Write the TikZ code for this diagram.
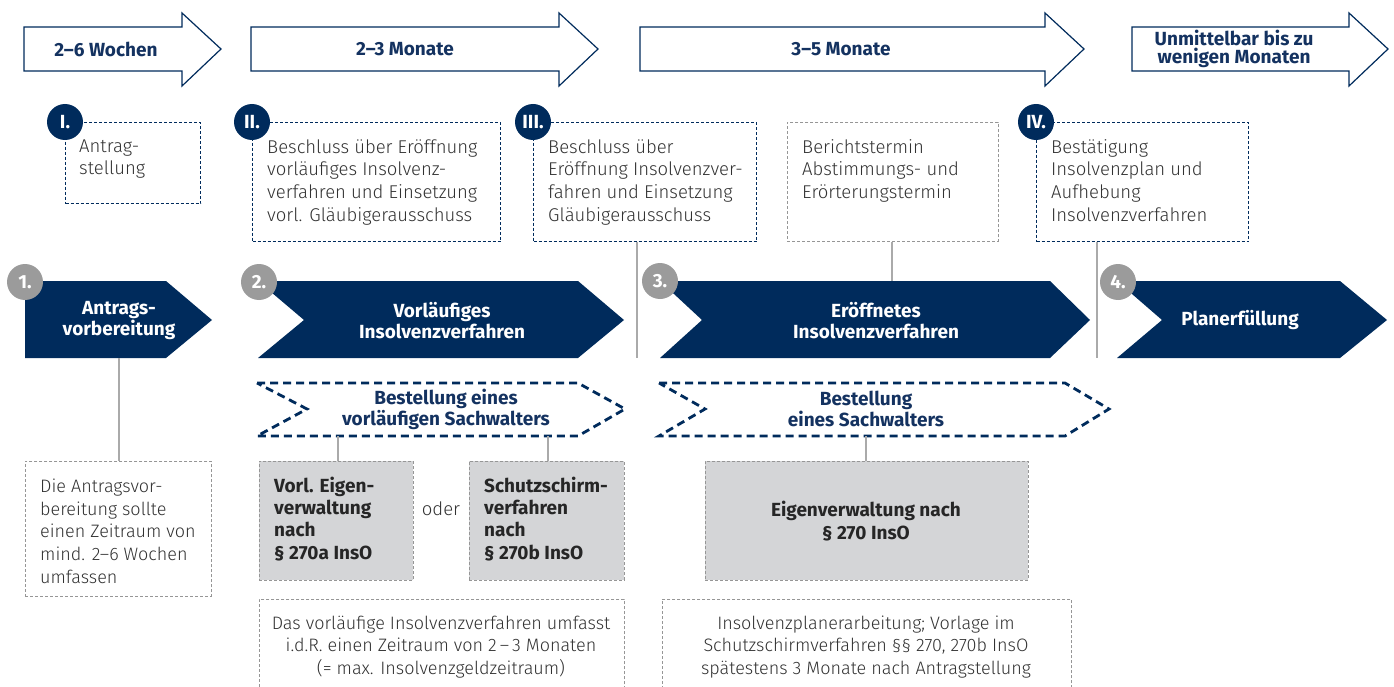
\documentclass[tikz,border=0pt]{standalone}
\usepackage{fontspec}
\setmainfont{Fira Sans}
\newfontfamily\lightfam{Fira Sans Light}
\definecolor{navy}{RGB}{0,43,92}
\definecolor{navytxt}{RGB}{20,50,96}
\definecolor{cgray}{RGB}{155,155,155}
\definecolor{lgray}{RGB}{170,170,170}
\definecolor{dgray}{RGB}{150,150,150}
\definecolor{bgray}{RGB}{212,213,215}
\definecolor{txtg}{RGB}{50,50,50}
\definecolor{txtd}{RGB}{38,38,38}
\newcommand\fl{\rule{0pt}{17pt}}
\newcommand\fsreg{\lightfam\fontsize{18.5}{22.7}\selectfont}
\newcommand\fsnote{\lightfam\fontsize{18}{22.8}\selectfont}
\newcommand\fsbold{\fontsize{19}{21}\bfseries\selectfont}
\newcommand\fsgb{\fontsize{19}{22.3}\bfseries\selectfont}
\begin{document}
\begin{tikzpicture}[x=1pt,y=-1pt,
  toparr/.style={draw=navy, line width=1.2pt, fill=white, line join=miter},
  toptxt/.style={text=navytxt, font=\fsbold, align=center, inner sep=0},
  rbox/.style={draw=navy, line width=1.1pt, dash pattern=on 3pt off 2pt, anchor=north west, inner sep=0},
  gbox/.style={draw=dgray, line width=0.9pt, dash pattern=on 3pt off 2pt, anchor=north west, inner sep=0},
  gfbox/.style={gbox, fill=bgray},
  boxtxt/.style={anchor=north west, inner sep=0, align=left, text=txtg, font=\fsreg},
  notetxt/.style={inner sep=0, align=center, text=txtg, font=\fsnote},
  gtxt/.style={anchor=north west, inner sep=0, align=left, text=txtd, font=\fsgb},
  rcirc/.style={circle, fill=navy, minimum size=36pt, inner sep=0, text=white, font=\fontsize{19}{20}\bfseries\selectfont},
  ncirc/.style={circle, fill=cgray, minimum size=36pt, inner sep=0, text=white, font=\fontsize{19}{20}\bfseries\selectfont},
  chev/.style={fill=navy},
  chevtxt/.style={text=white, font=\fsbold, align=center, inner sep=0},
  dchev/.style={draw=navy, line width=2.8pt, dash pattern=on 8pt off 5pt},
  dchevtxt/.style={text=navytxt, font=\fsbold, align=center, inner sep=0},
  conn/.style={draw=lgray, line width=1.2pt}
]
\useasboundingbox (0,0) rectangle (1394,687);

% ---- top time arrows
\draw[toparr] (24,27) -- (182,27) -- (182,13) -- (221,49) -- (182,86) -- (182,71) -- (24,71) -- cycle;
\node[toptxt] (t1) at (106,49) {2–6 Wochen};
\draw[toparr] (251,27) -- (559,27) -- (559,13) -- (598,49) -- (559,86) -- (559,71) -- (251,71) -- cycle;
\node[toptxt] (t2) at (405,49) {2–3 Monate};
\draw[toparr] (640,27) -- (1045,27) -- (1045,13) -- (1084,49) -- (1045,86) -- (1045,71) -- (640,71) -- cycle;
\node[toptxt] (t3) at (841,49) {3–5 Monate};
\draw[toparr] (1132,27) -- (1349,27) -- (1349,13) -- (1388,49) -- (1349,86) -- (1349,71) -- (1132,71) -- cycle;
\node[toptxt, font=\fontsize{19}{18}\bfseries\selectfont] (t4) at (1234,49) {Unmittelbar bis zu\\wenigen Monaten};

% ---- milestone boxes
\node[rbox, minimum width=135pt, minimum height=81pt] (b1) at (65,122) {};
\node[boxtxt] (b1t) at (79,135) {\fl Antrag-\\stellung};
\node[rbox, minimum width=248pt, minimum height=119pt] (b2) at (252,122) {};
\node[boxtxt] (b2t) at (267,136) {\fl Beschluss über Eröffnung\\vorläufiges Insolvenz-\\verfahren und Einsetzung\\vorl. Gläubigerausschuss};
\node[rbox, minimum width=223pt, minimum height=119pt] (b3) at (533,122) {};
\node[boxtxt] (b3t) at (548,136) {\fl Beschluss über\\Eröffnung Insolvenzver-\\fahren und Einsetzung\\Gläubigerausschuss};
\node[gbox, minimum width=211pt, minimum height=119pt] (bB) at (787,122) {};
\node[boxtxt] (bBt) at (802,136) {\fl Berichtstermin\\Abstimmungs- und\\Erörterungstermin};
\node[rbox, minimum width=212pt, minimum height=119pt] (b4) at (1036,122) {};
\node[boxtxt] (b4t) at (1051,136) {\fl Bestätigung\\Insolvenzplan und\\Aufhebung\\Insolvenzverfahren};

\node[rcirc] (r1) at (b1.north west) {I.};
\node[rcirc] (r2) at (b2.north west) {II.};
\node[rcirc] (r3) at (b3.north west) {III.};
\node[rcirc] (r4) at (b4.north west) {IV.};

% ---- connectors from boxes to phases
\coordinate (ln3) at (637,358);
\coordinate (ch3t) at (892,281);
\coordinate (ln4) at (1097,358);
\draw[conn] (b3.south -| ln3) -- (ln3);
\draw[conn] (bB.south -| ch3t) -- (ch3t);
\draw[conn] (b4.south -| ln4) -- (ln4);

% ---- phase chevrons
\fill[chev] (25,281) -- (166,281) -- (212,320) -- (166,358) -- (25,358) -- cycle;
\node[chevtxt] (p1) at (119,321) {Antrags-\\vorbereitung};
\fill[chev] (258,281) -- (578,281) -- (624,320) -- (578,358) -- (258,358) -- (304,320) -- cycle;
\node[chevtxt] (p2) at (442,321) {Vorläufiges\\Insolvenzverfahren};
\fill[chev] (660,281) -- (1050,281) -- (1090,320) -- (1050,358) -- (660,358) -- (702,320) -- cycle;
\node[chevtxt] (p3) at (876,321) {Eröffnetes\\Insolvenzverfahren};
\fill[chev] (1117,281) -- (1340,281) -- (1387,320) -- (1340,358) -- (1117,358) -- (1162,320) -- cycle;
\node[chevtxt] (p4) at (1240,320) {Planerfüllung};

\node[ncirc] (k1) at (25,282) {1.};
\node[ncirc] (k2) at (259,282) {2.};
\node[ncirc] (k3) at (660,281) {3.};
\node[ncirc] (k4) at (1118,282) {4.};

% ---- dashed chevrons
\draw[dchev] (257,383) -- (578,383) -- (625,409) -- (578,436) -- (257,436) -- (307,409) -- cycle;
\node[dchevtxt] (s1) at (446,409) {Bestellung eines\\vorläufigen Sachwalters};
\draw[dchev] (659,383) -- (1065,383) -- (1109,409) -- (1065,436) -- (659,436) -- (705,409) -- cycle;
\node[dchevtxt] (s2) at (866,409) {Bestellung\\eines Sachwalters};

% ---- note 1
\node[gbox, minimum width=186pt, minimum height=135pt] (n1) at (25,461) {};
\node[boxtxt, font=\fsnote] (n1t) at (40,475) {\fl Die Antragsvor-\\bereitung sollte\\einen Zeitraum von\\mind. 2–6 Wochen\\umfassen};
\coordinate (ch1s) at (119,358);
\draw[conn] (ch1s) -- (n1.north -| ch1s);

% ---- grey boxes
\node[gfbox, minimum width=154pt, minimum height=119pt] (g1) at (259,461) {};
\node[gtxt] (g1t) at (274,475) {\fl Vorl. Eigen-\\verwaltung\\nach\\§ 270a InsO};
\node[text=txtg, font=\fsreg, inner sep=0] (oder) at (441,509) {oder};
\node[gfbox, minimum width=155pt, minimum height=119pt] (g2) at (469,461) {};
\node[gtxt] (g2t) at (484,475) {\fl Schutzschirm-\\verfahren\\nach\\§ 270b InsO};
\node[gfbox, minimum width=323pt, minimum height=119pt] (g3) at (705,461) {};
\node[gtxt, anchor=center, align=center] (g3t) at (866,521) {Eigenverwaltung nach\\§ 270 InsO};

\coordinate (d1a) at (338,436);
\coordinate (d1b) at (548,436);
\coordinate (d2a) at (866,436);
\draw[conn] (d1a) -- (g1.north -| d1a);
\draw[conn] (d1b) -- (g2.north -| d1b);
\draw[conn] (d2a) -- (g3.north -| d2a);

% ---- bottom notes (cut by the page edge)
\begin{scope}
\clip (0,0) rectangle (1394,687);
\node[gbox, minimum width=365pt, minimum height=110pt] (n2) at (259,599) {};
\node[notetxt] (n2t) at (441,647) {Das vorläufige Insolvenzverfahren umfasst\\i.d.R. einen Zeitraum von 2\,–\,3 Monaten\\(= max. Insolvenzgeldzeitraum)};
\node[gbox, minimum width=409pt, minimum height=110pt] (n3) at (662,599) {};
\node[notetxt] (n3t) at (866,647) {Insolvenzplanerarbeitung; Vorlage im\\Schutzschirmverfahren §§ 270, 270b InsO\\spätestens 3 Monate nach Antragstellung};
\end{scope}
\end{tikzpicture}
\end{document}
